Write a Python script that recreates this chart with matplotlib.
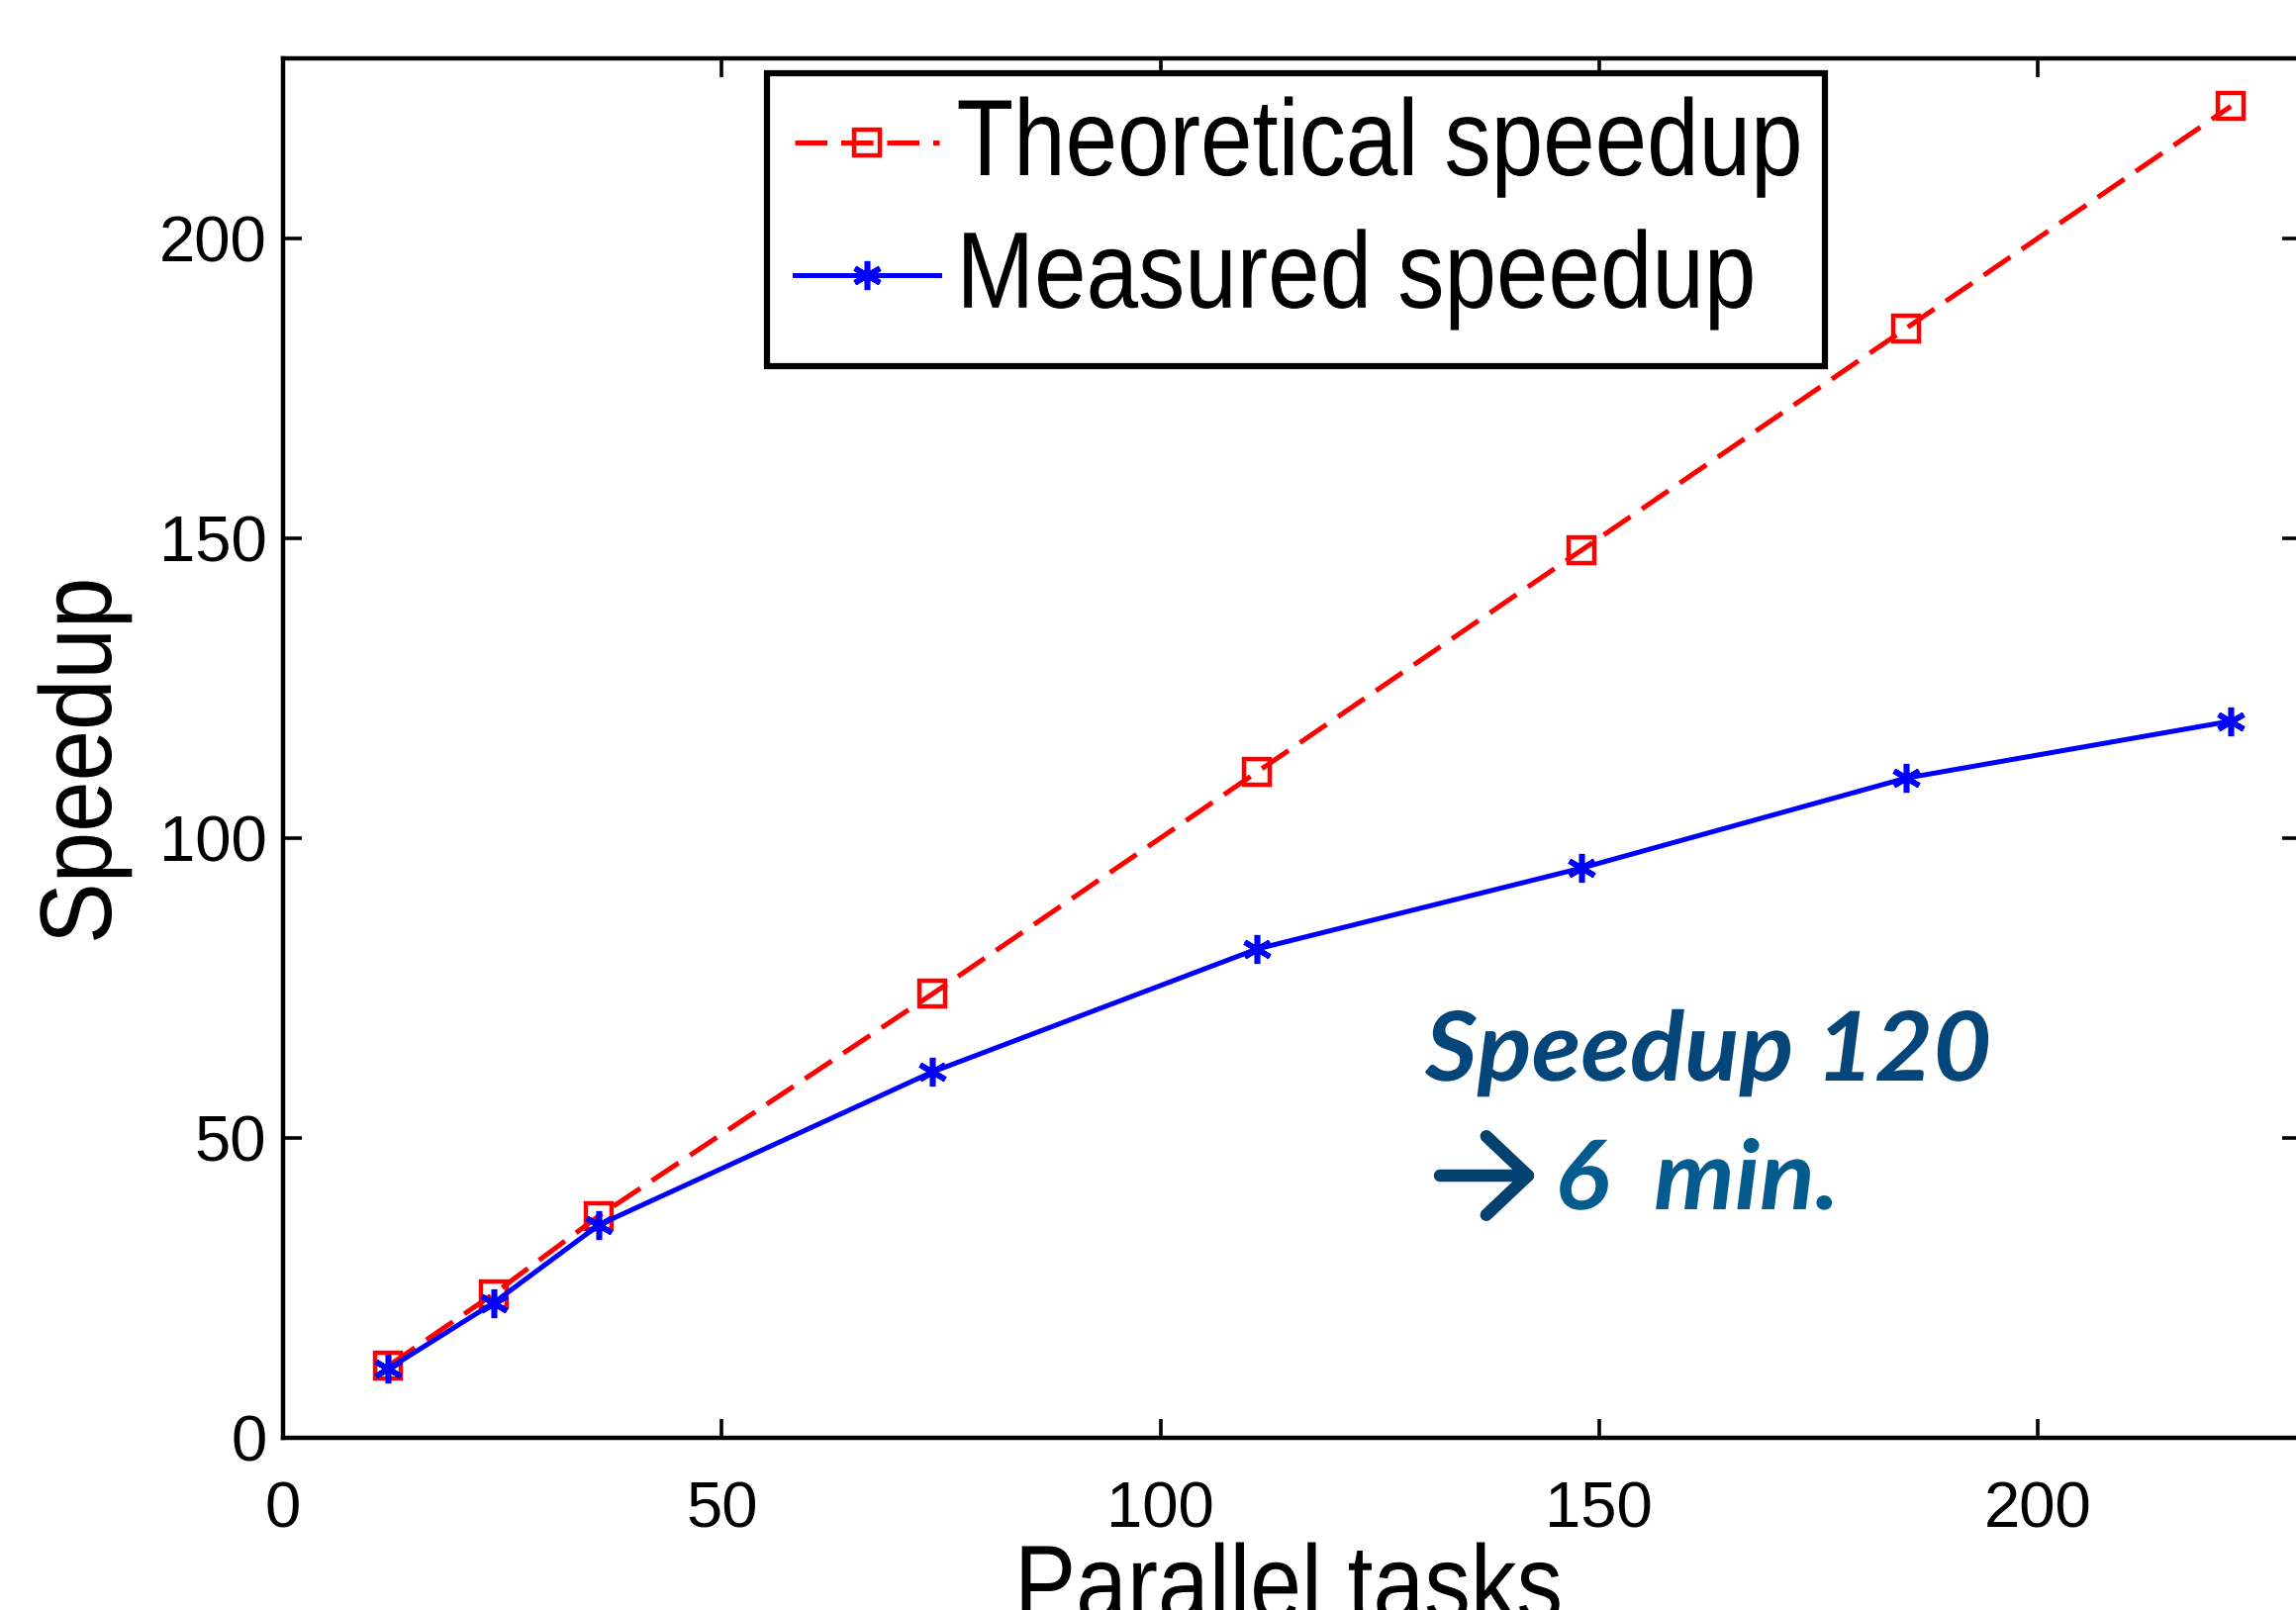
import matplotlib
matplotlib.use('Agg')
import matplotlib.pyplot as plt
from matplotlib.patches import Rectangle
from matplotlib.patheffects import AbstractPathEffect
from matplotlib.transforms import Affine2D

# values
tasks = [12, 24, 36, 74, 111, 148, 185, 222]
theoretical = [12, 24, 37, 74, 111, 148, 185, 222]
measured = [11.5, 22.5, 35.5, 61, 81.5, 95, 110, 119.5]
xticks = [0, 50, 100, 150, 200]
yticks = [0, 50, 100, 150, 200]


class Squeeze(AbstractPathEffect):
    """scale text glyphs along the writing direction (narrow font look)"""
    def __init__(self, sx):
        super().__init__()
        self.sx = sx

    def draw_path(self, renderer, gc, tpath, affine, rgbFace=None):
        renderer.draw_path(gc, tpath, Affine2D().scale(self.sx, 1) + affine, rgbFace)


sans = ['Liberation Sans', 'DejaVu Sans']
bold_it = ['Lato', 'Open Sans', 'DejaVu Sans']

W, H = 2320, 1627
fig = plt.figure(figsize=(W / 100, H / 100), dpi=100)
# axes: left spine at 286px, right spine just past the image edge
ax = fig.add_axes([286 / W, (H - 1453) / H, (2325 - 286) / W, (1453 - 59) / H])

ax.plot(tasks, theoretical, color='red', lw=3.6, dashes=(6.5, 2.8),
        marker='s', ms=19, mfc='none', mec='red', mew=3.2,
        label='Theoretical speedup')
ax.plot(tasks, measured, color='blue', lw=3.6,
        marker=(6, 2, 0), ms=21, mec='blue', mew=4,
        label='Measured speedup')

ax.set_xlim(0, 230)
ax.set_ylim(0, 230)
ax.set_xticks(xticks)
ax.set_yticks(yticks)
ax.tick_params(direction='in', length=14, width=2.6, top=True, right=True,
               labelsize=47)
ax.tick_params(axis='x', pad=31)
ax.tick_params(axis='y', pad=12)
for lab in ax.get_xticklabels() + ax.get_yticklabels():
    lab.set_family(sans)
for sp in ax.spines.values():
    sp.set_linewidth(3.2)

# axis labels, narrow like the original
fig.text(1025 / W, 1 - 1637 / H, 'Parallel tasks', fontsize=78, family=sans,
         ha='left', va='baseline', path_effects=[Squeeze(0.86)])
fig.text(37 / W, 1 - 954 / H, 'Speedup', fontsize=74, family=sans,
         rotation=90, ha='left', va='bottom', path_effects=[Squeeze(0.9)])

leg = ax.legend(loc='upper left', bbox_to_anchor=(803 / W, 1 - 98 / H),
                bbox_transform=fig.transFigure, borderaxespad=0, borderpad=0,
                frameon=False, prop={'family': sans, 'size': 79},
                handlelength=1.33, handleheight=0.36, handletextpad=0.16,
                labelspacing=0.29)
for t in leg.get_texts():
    t.set_path_effects([Squeeze(0.86)])
ax.add_patch(Rectangle((775 / W, 1 - 370 / H), (1844 - 775) / W, (370 - 74) / H,
                       transform=fig.transFigure, facecolor='white',
                       edgecolor='black', lw=4.5, zorder=4.9, clip_on=False))

# annotation in bold italic
fig.text(1440 / W, 1 - 1092 / H, 'Speedup 120', fontsize=70, family=bold_it,
         weight='bold', style='italic', color='#05467a',
         path_effects=[Squeeze(1.05)])
fig.text(1571 / W, 1 - 1222 / H, '6  min.', fontsize=70, family=bold_it,
         weight='bold', style='italic', color='#035b8e',
         path_effects=[Squeeze(1.06)])
ax.annotate('', xy=(1553, H - 1188), xytext=(1455, H - 1188),
            xycoords='figure pixels', textcoords='figure pixels',
            arrowprops=dict(arrowstyle='->,head_length=0.55,head_width=0.52',
                            mutation_scale=55, lw=9, color='#03416f',
                            shrinkA=0, shrinkB=0))

fig.savefig('out.png', dpi=100)
